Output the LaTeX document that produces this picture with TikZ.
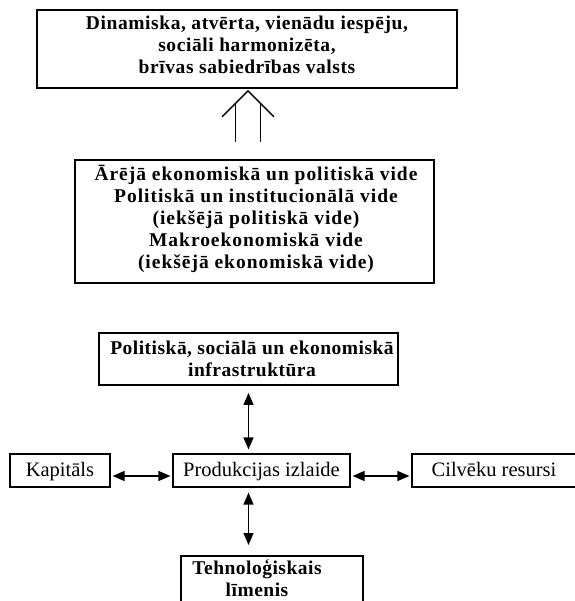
\documentclass[tikz,border=0pt]{standalone}
\usepackage{fontspec}
\setmainfont{Liberation Serif}
\usetikzlibrary{arrows.meta,calc}
\begin{document}
\begin{tikzpicture}[x=1pt,y=-1pt,
  bigbox/.style={draw,line width=1.8pt,inner sep=0pt},
  bold/.style={inner sep=0pt,align=center,
    font=\fontsize{19.5}{22}\selectfont\bfseries\addfontfeatures{LetterSpace=#1}},
  rowbox/.style={draw,line width=1.2pt,inner sep=0pt,minimum height=33pt,
    text height=14pt,text depth=3pt,font=\fontsize{20.5}{22}\selectfont},
  biarrow/.style={{Triangle[length=12pt,width=10pt]}-{Triangle[length=12pt,width=10pt]},line width=1.3pt}]
\useasboundingbox (0,0) rectangle (574,601);

% goal
\node[bigbox,minimum width=420pt,minimum height=78pt] (goal) at (247,49) {};
\node[bold=3] (goaltxt) at (247,44.5)
  {Dinamiska, atvērta, vienādu iespēju,\\ sociāli harmonizēta,\\ brīvas sabiedrības valsts};

% environment
\node[bigbox,minimum width=359pt,minimum height=123pt] (env) at (254.5,221.5) {};
\node[bold=5] (envtxt) at (256,219)
  {Ārējā ekonomiskā un politiskā vide\\ Politiskā un institucionālā vide\\ (iekšējā politiskā vide)\\ Makroekonomiskā vide\\ (iekšējā ekonomiskā vide)};

% hollow double arrow from environment up to goal
\coordinate (ga) at ($(goal.south)+(1,2)$);
\draw[line width=1.3pt] ($(ga)+(-12.5,51)$) -- ($(ga)+(-12.5,12.5)$);
\draw[line width=1.3pt] ($(ga)+(12.5,51)$) -- ($(ga)+(12.5,12.5)$);
\draw[line width=1.3pt] ($(ga)+(-26,26)$) -- (ga) -- ($(ga)+(26,26)$);

% infrastructure
\node[bigbox,minimum width=299pt,minimum height=52pt] (infra) at (248.5,359) {};
\node[bold=2.5] (infratxt) at (252,359)
  {Politiskā, sociālā un ekonomiskā\\ infrastruktūra};

% production row
\node[rowbox,minimum width=177pt] (prod) at (261.5,470.5) {Produkcijas izlaide};
\node[rowbox,minimum width=100pt] (kap) at (60,470.5) {Kapitāls};
\node[rowbox,minimum width=164pt] (cilv) at (494,470.5) {Cilvēku resursi};

% technology
\node[bigbox,minimum width=182pt,minimum height=60pt,anchor=north west] (tech) at (180,555) {};
\node[bold=2.5] (techtxt) at (257,578.5)
  {Tehnoloģiskais\\ līmenis};

% connectors
\draw[biarrow,shorten <=7pt,shorten >=4pt] (infra.south) -- (infra.south |- prod.north);
\draw[biarrow,shorten <=5pt,shorten >=10pt] (prod.south -| infra.south) -- (tech.north -| infra.south);
\draw[biarrow] ($(kap.east)+(2,5.5)$) -- ($(prod.west)+(-2,5.5)$);
\draw[biarrow] ($(prod.east)+(2,5.5)$) -- ($(cilv.west)+(-2,5.5)$);
\end{tikzpicture}
\end{document}
